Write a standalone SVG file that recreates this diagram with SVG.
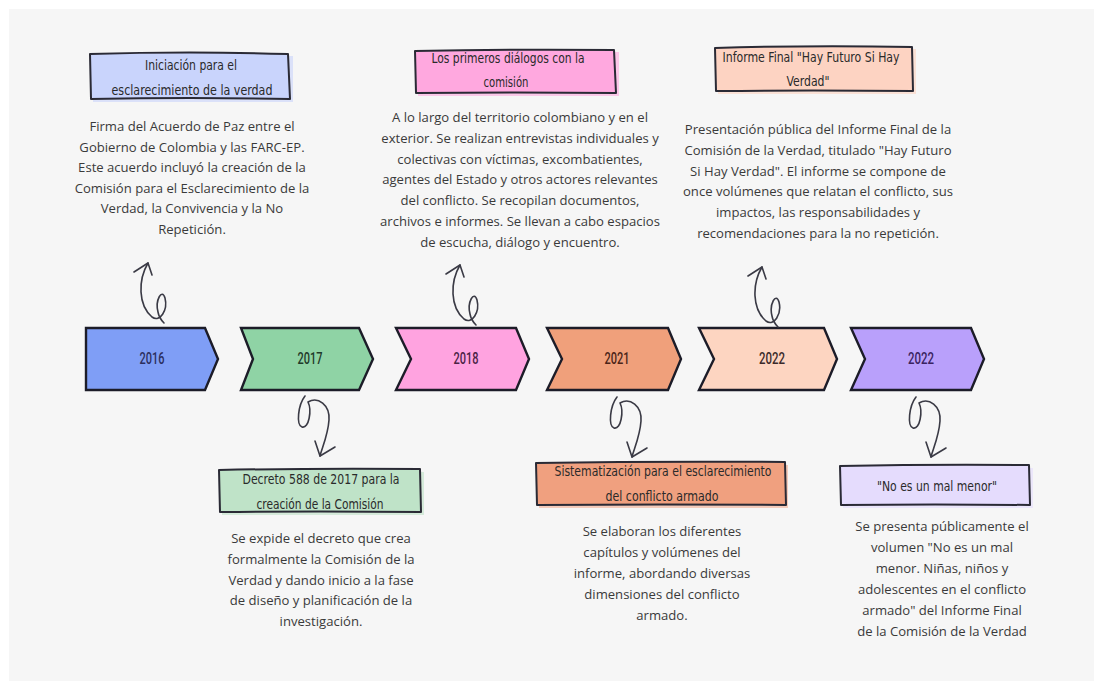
<svg xmlns="http://www.w3.org/2000/svg" width="1094" height="682" viewBox="0 0 1094 682">
<style>
.body{font-family:"Open Sans","Noto Sans",sans-serif;font-size:13.1px;fill:#3a3a3a;text-anchor:middle}
.ttl{font-family:"Liberation Sans Narrow","DejaVu Sans Condensed","Liberation Sans",sans-serif;font-size:14.5px;fill:#2a2a2a;text-anchor:middle}
.yr{font-family:"Roboto","Liberation Sans",sans-serif;font-size:17px;font-weight:500;text-anchor:middle}
.chev{stroke:#1c1c28;stroke-width:2.4;stroke-linejoin:miter}
.box{stroke:#2a2a35;stroke-width:2;stroke-linejoin:round}
.curl{fill:none;stroke:#3a3a45;stroke-width:1.6;stroke-linecap:round;stroke-linejoin:round}
</style>
<rect x="0" y="0" width="1094" height="682" fill="#ffffff"/>
<rect x="9" y="9" width="1085" height="672" fill="#f6f6f6"/>

<g id="chevrons">
  <g id="y2016"><path class="chev" fill="#7f9ef6" d="M86 328 L205 328 L218 359 L205 390 L86 390 Z"/><text class="yr" x="152" y="364" fill="#2b2f5e" textLength="25" lengthAdjust="spacingAndGlyphs">2016</text></g>
  <g id="y2017"><path class="chev" fill="#8fd3a5" d="M241 328 L359 328 L373 359 L359 390 L241 390 L253 359 Z"/><text class="yr" x="310" y="364" fill="#1f3a2a" textLength="25" lengthAdjust="spacingAndGlyphs">2017</text></g>
  <g id="y2018"><path class="chev" fill="#ffa3e0" d="M396 328 L516 328 L529 359 L516 390 L396 390 L411 359 Z"/><text class="yr" x="466" y="364" fill="#4a2245" textLength="25" lengthAdjust="spacingAndGlyphs">2018</text></g>
  <g id="y2021"><path class="chev" fill="#f0a07b" d="M547 328 L668 328 L681 359 L668 390 L547 390 L562 359 Z"/><text class="yr" x="617" y="364" fill="#4a2418" textLength="25" lengthAdjust="spacingAndGlyphs">2021</text></g>
  <g id="y2022a"><path class="chev" fill="#fdd5c1" d="M699 328 L824 328 L837 359 L824 390 L699 390 L714 359 Z"/><text class="yr" x="772" y="364" fill="#3a2a2a" textLength="26" lengthAdjust="spacingAndGlyphs">2022</text></g>
  <g id="y2022b"><path class="chev" fill="#b9a0fb" d="M851 328 L971 328 L984 359 L971 390 L851 390 L865 359 Z"/><text class="yr" x="921" y="364" fill="#3a2360" textLength="26" lengthAdjust="spacingAndGlyphs">2022</text></g>
</g>

<g id="connectors">
  <g id="up1">
    <path class="curl" d="M148 263 C138 280 138 305 152 317 C160 323 168 310 165 298 C162 288 155 300 158 312 C159 318 162 321 164 323"/>
    <path class="curl" d="M134 272 L148 263 L152 275"/>
  </g>
  <g id="up2" transform="translate(312,2)">
    <path class="curl" d="M148 263 C138 280 138 305 152 317 C160 323 168 310 165 298 C162 288 155 300 158 312 C159 318 162 321 164 323"/>
    <path class="curl" d="M134 272 L148 263 L152 275"/>
  </g>
  <g id="up3" transform="translate(614,4)">
    <path class="curl" d="M148 263 C138 280 138 305 152 317 C160 323 168 310 165 298 C162 288 155 300 158 312 C159 318 162 321 164 323"/>
    <path class="curl" d="M134 272 L148 263 L152 275"/>
  </g>
  <g id="down1">
    <path class="curl" d="M305 396 C298 405 296 425 302 427 C309 429 312 410 308 402 C318 396 330 405 329 420 C328 435 322 448 320 456"/>
    <path class="curl" d="M315 441 L320 456 L335 447"/>
  </g>
  <g id="down2" transform="translate(312,1)">
    <path class="curl" d="M305 396 C298 405 296 425 302 427 C309 429 312 410 308 402 C318 396 330 405 329 420 C328 435 322 448 320 456"/>
    <path class="curl" d="M315 441 L320 456 L335 447"/>
  </g>
  <g id="down3" transform="translate(611,1)">
    <path class="curl" d="M305 396 C298 405 296 425 302 427 C309 429 312 410 308 402 C318 396 330 405 329 420 C328 435 322 448 320 456"/>
    <path class="curl" d="M315 441 L320 456 L335 447"/>
  </g>
</g>

<g id="n1">
  <path d="M93 56 L293 56 L293 102 L93 102 Z" fill="#c9d4fb" opacity="0.6"/>
  <path class="box" fill="#c9d4fc" d="M90 54 Q190 51 288 54 L290 99 Q190 97 91 99 Z"/>
  <text class="ttl" x="191" y="70" textLength="92" lengthAdjust="spacingAndGlyphs">Iniciación para el</text>
  <text class="ttl" x="192" y="95" textLength="161" lengthAdjust="spacingAndGlyphs">esclarecimiento de la verdad</text>
  <text class="body"><tspan x="192" y="131">Firma del Acuerdo de Paz entre el</tspan><tspan x="192" y="151.6">Gobierno de Colombia y las FARC-EP.</tspan><tspan x="192" y="172.2">Este acuerdo incluyó la creación de la</tspan><tspan x="192" y="192.8">Comisión para el Esclarecimiento de la</tspan><tspan x="192" y="213.4">Verdad, la Convivencia y la No</tspan><tspan x="192" y="234">Repetición.</tspan></text>
</g>

<g id="n2">
  <path d="M418 52 L619 52 L619 96 L418 96 Z" fill="#ffa8df" opacity="0.6"/>
  <path class="box" fill="#ffa8df" d="M415 51 Q515 49 614 50 L616 93 Q515 92 416 93 Z"/>
  <text class="ttl" x="508" y="63" textLength="153" lengthAdjust="spacingAndGlyphs">Los primeros diálogos con la</text>
  <text class="ttl" x="506" y="87" textLength="45" lengthAdjust="spacingAndGlyphs">comisión</text>
  <text class="body"><tspan x="520" y="122">A lo largo del territorio colombiano y en el</tspan><tspan x="520" y="142.8">exterior. Se realizan entrevistas individuales y</tspan><tspan x="520" y="163.6">colectivas con víctimas, excombatientes,</tspan><tspan x="520" y="184.4">agentes del Estado y otros actores relevantes</tspan><tspan x="520" y="205.2">del conflicto. Se recopilan documentos,</tspan><tspan x="520" y="226">archivos e informes. Se llevan a cabo espacios</tspan><tspan x="520" y="246.8">de escucha, diálogo y encuentro.</tspan></text>
</g>

<g id="n3">
  <path d="M718 49 L916 49 L916 94 L718 94 Z" fill="#fdd3c2" opacity="0.6"/>
  <path class="box" fill="#fdd3c2" d="M715 48 Q812 45 912 47 L913 91 Q812 90 716 91 Z"/>
  <text class="ttl" x="811" y="62" textLength="177" lengthAdjust="spacingAndGlyphs">Informe Final "Hay Futuro Si Hay</text>
  <text class="ttl" x="808" y="86" textLength="43" lengthAdjust="spacingAndGlyphs">Verdad"</text>
  <text class="body"><tspan x="818" y="134">Presentación pública del Informe Final de la</tspan><tspan x="818" y="154.8">Comisión de la Verdad, titulado "Hay Futuro</tspan><tspan x="818" y="175.6">Si Hay Verdad". El informe se compone de</tspan><tspan x="818" y="196.4">once volúmenes que relatan el conflicto, sus</tspan><tspan x="818" y="217.2">impactos, las responsabilidades y</tspan><tspan x="818" y="238">recomendaciones para la no repetición.</tspan></text>
</g>

<g id="n4">
  <path d="M222 472 L424 472 L424 515 L222 515 Z" fill="#bfe3c8" opacity="0.6"/>
  <path class="box" fill="#bfe3c8" d="M219 470 Q320 468 420 469 L421 512 Q320 511 220 512 Z"/>
  <text class="ttl" x="321" y="484" textLength="157" lengthAdjust="spacingAndGlyphs">Decreto 588 de 2017 para la</text>
  <text class="ttl" x="320" y="509" textLength="127" lengthAdjust="spacingAndGlyphs">creación de la Comisión</text>
  <text class="body"><tspan x="321" y="543">Se expide el decreto que crea</tspan><tspan x="321" y="563.8">formalmente la Comisión de la</tspan><tspan x="321" y="584.6">Verdad y dando inicio a la fase</tspan><tspan x="321" y="605.4">de diseño y planificación de la</tspan><tspan x="321" y="626.2">investigación.</tspan></text>
</g>

<g id="n5">
  <path d="M539 465 L788 465 L788 508 L539 508 Z" fill="#f0a07f" opacity="0.5"/>
  <path class="box" fill="#f0a07f" d="M536 463 Q660 461 785 462 L786 505 Q660 504 537 505 Z"/>
  <text class="ttl" x="663" y="476" textLength="217" lengthAdjust="spacingAndGlyphs">Sistematización para el esclarecimiento</text>
  <text class="ttl" x="662" y="501" textLength="113" lengthAdjust="spacingAndGlyphs">del conflicto armado</text>
  <text class="body"><tspan x="662" y="536">Se elaboran los diferentes</tspan><tspan x="662" y="557">capítulos y volúmenes del</tspan><tspan x="662" y="578">informe, abordando diversas</tspan><tspan x="662" y="599">dimensiones del conflicto</tspan><tspan x="662" y="620">armado.</tspan></text>
</g>

<g id="n6">
  <path d="M843 468 L1033 468 L1033 508 L843 508 Z" fill="#e5dcfd" opacity="0.6"/>
  <path class="box" fill="#e5dcfd" d="M840 466 Q935 464 1029 465 L1030 505 Q935 504 841 505 Z"/>
  <text class="ttl" x="937" y="491" textLength="120" lengthAdjust="spacingAndGlyphs">"No es un mal menor"</text>
  <text class="body"><tspan x="942" y="531">Se presenta públicamente el</tspan><tspan x="942" y="552">volumen "No es un mal</tspan><tspan x="942" y="573">menor. Niñas, niños y</tspan><tspan x="942" y="594">adolescentes en el conflicto</tspan><tspan x="942" y="615">armado" del Informe Final</tspan><tspan x="942" y="636">de la Comisión de la Verdad</tspan></text>
</g>
</svg>
